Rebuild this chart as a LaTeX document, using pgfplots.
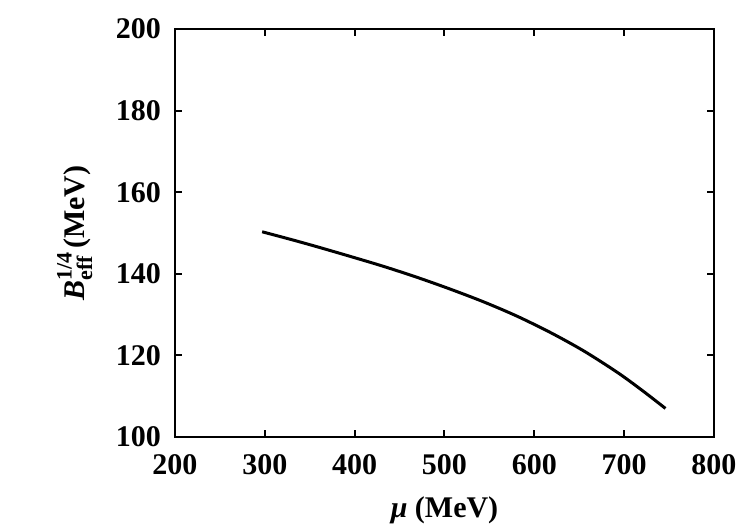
\documentclass[border=0pt]{standalone}
\usepackage{pgfplots}
\pgfplotsset{compat=1.18}
\usepackage{fontspec}
\setmainfont{Liberation Serif}
\begin{document}
\begin{tikzpicture}
% fixed page: 375pt x 262.5pt, axis box placed like the reference
\path[use as bounding box] (-87.5pt,-44pt) rectangle (287.5pt,218.5pt);
\begin{axis}[
    scale only axis,
    width=269.5pt, height=204pt,
    xmin=200, xmax=800, ymin=100, ymax=200,
    xtick={200,300,...,800},
    ytick={100,120,...,200},
    tick align=inside,
    major tick length=3.5pt,
    axis line style={line width=1pt},
    every tick/.style={line width=1pt, black},
    /pgf/number format/assume math mode=true,
    ticklabel style={font=\fontsize{15}{15}\selectfont\bfseries},
    xticklabel style={yshift=-5pt},
    yticklabel style={xshift=-3.5pt},
    label style={font=\fontsize{15}{15}\selectfont\bfseries},
    xlabel={\textit{μ} (MeV)},
    ylabel={\textit{B}\makebox[0pt][l]{\raisebox{0.95ex}{\fontsize{11}{11}\selectfont\bfseries 1/4}}\raisebox{-0.55ex}{\fontsize{11}{11}\selectfont\bfseries eff}\ (MeV)},
    xlabel style={at={(axis description cs:0.5,-0.179)}, anchor=center},
    ylabel style={at={(axis description cs:-0.186,0.5)}, anchor=center},
]
%curve
\addplot [black, line width=1.5pt, smooth] coordinates {
    (297,150.30) (330,148.36) (358,146.64) (395,144.27) (432,141.83)
    (469,139.17) (506,136.28) (543,133.17) (580,129.69) (618,125.60)
    (655,121.10) (692,115.90) (719,111.60) (746,107.00)
};
\end{axis}
\end{tikzpicture}
\end{document}
